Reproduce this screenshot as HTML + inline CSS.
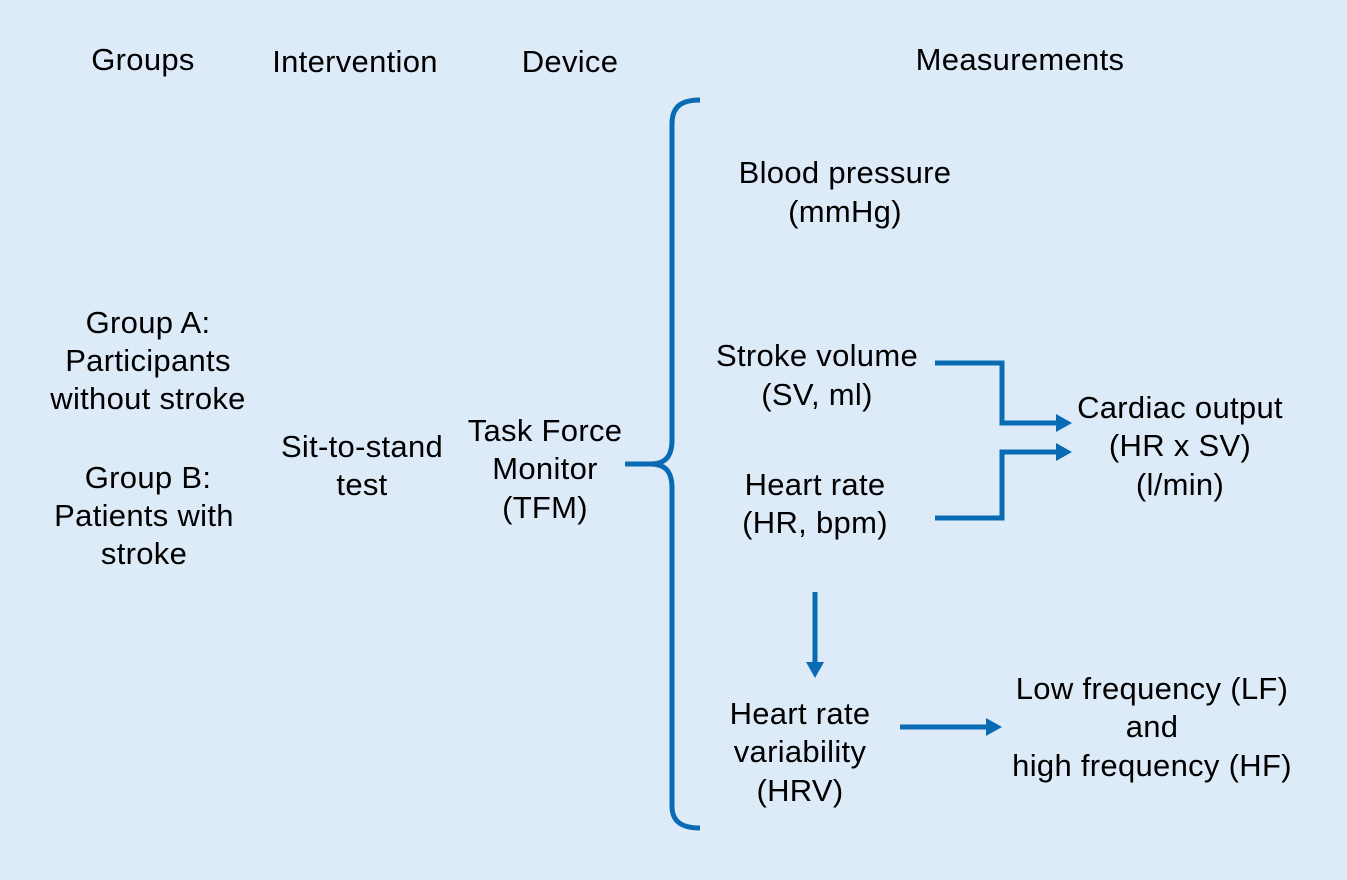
<!DOCTYPE html>
<html><head><style>
body{margin:0;background:#ddeaf7;}
svg{display:block}
text{font-family:"Liberation Sans",Arial,sans-serif;font-size:31px;fill:#000;text-anchor:middle;letter-spacing:0.3px}
</style></head><body>
<svg width="1347" height="880" viewBox="0 0 1347 880">
<rect width="1347" height="880" fill="#ddeaf7"/>
<g fill="none" stroke="#0a6bb5" stroke-width="5">
<path d="M700 100 C682 100 672 106 672 124 L672 440 C672 458 664 464 650 464 L625 464 M650 464 C664 464 672 470 672 488 L672 806 C672 822 682 828 700 828"/>
<path d="M935 363 L1002 363 L1002 423 L1058 423"/>
<path d="M935 518 L1002 518 L1002 452 L1058 452"/>
<path d="M815 592 L815 664"/>
<path d="M900 727 L988 727"/>
</g>
<g fill="#0a6bb5">
<polygon points="1056,414 1072,423 1056,432"/>
<polygon points="1056,443 1072,452 1056,461"/>
<polygon points="806,662 815,678 824,662"/>
<polygon points="986,718 1002,727 986,736"/>
</g>
<text x="143" y="70">Groups</text>
<text x="355" y="72">Intervention</text>
<text x="570" y="72">Device</text>
<text x="1020" y="70">Measurements</text>
<text x="845" y="183">Blood pressure</text>
<text x="845" y="222">(mmHg)</text>
<text x="148" y="333">Group A:</text>
<text x="148" y="371">Participants</text>
<text x="148" y="409">without stroke</text>
<text x="148" y="488">Group B:</text>
<text x="144" y="526">Patients with</text>
<text x="144" y="564">stroke</text>
<text x="362" y="457">Sit-to-stand</text>
<text x="362" y="495">test</text>
<text x="545" y="441">Task Force</text>
<text x="545" y="479">Monitor</text>
<text x="545" y="518">(TFM)</text>
<text x="817" y="366">Stroke volume</text>
<text x="817" y="405">(SV, ml)</text>
<text x="815" y="495">Heart rate</text>
<text x="815" y="533">(HR, bpm)</text>
<text x="1180" y="418">Cardiac output</text>
<text x="1180" y="456">(HR x SV)</text>
<text x="1180" y="495">(l/min)</text>
<text x="800" y="724">Heart rate</text>
<text x="800" y="762">variability</text>
<text x="800" y="801">(HRV)</text>
<text x="1152" y="699">Low frequency (LF)</text>
<text x="1152" y="737">and</text>
<text x="1152" y="776">high frequency (HF)</text>
</svg>
</body></html>
